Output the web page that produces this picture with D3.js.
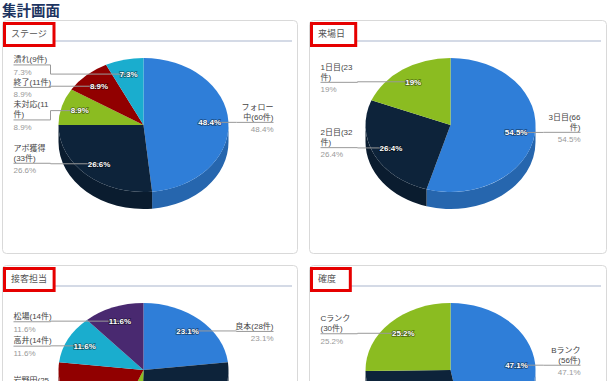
<!DOCTYPE html>
<html>
<head>
<meta charset="utf-8">
<script src="https://cdn.jsdelivr.net/npm/d3@7"></script>
<style>
body { margin: 0; background: #fff; }
svg { display: block; font-family: "Liberation Sans", "Noto Sans CJK JP", sans-serif; }
</style>
</head>
<body>
<script>

// Highcharts 3 default colours
var palette = ['#2f7ed8', '#0d233a', '#8bbc21', '#910000', '#1aadce', '#492970'];

var stageNames = ['フォロー中', 'アポ獲得', '未対応', '終了', '潰れ'];
var stageCounts = [60, 33, 11, 11, 9];

var dayNames = ['3日目', '2日目', '1日目'];
var dayCounts = [66, 32, 23];

var staffNames = ['良本', '鈴木', '田中', '岩野田', '高井', '松場'];
var staffCounts = [28, 33, 7, 25, 14, 14];

var rankNames = ['Bランク', 'Aランク', 'Cランク'];
var rankCounts = [56, 33, 30];

var W = 611, H = 381;
var rx = 85, ry = 67, depth = 17;
var labelW = 39;

var svg = d3.select('body').append('svg')
	.attr('width', W)
	.attr('height', H);

svg.append('text')
	.attr('x', 2)
	.attr('y', 16)
	.attr('font-size', 14.5)
	.attr('font-weight', 'bold')
	.attr('fill', '#1d3461')
	.attr('font-family', '"Noto Sans CJK JP", sans-serif')
	.text('集計画面');

var panels = [
	{title: '接客担当', names: staffNames, counts: staffCounts, x: 2, y: 265, w: 296, h: 240},
	{title: '確度', names: rankNames, counts: rankCounts, x: 309, y: 265, w: 298, h: 240},
	{title: 'ステージ', names: stageNames, counts: stageCounts, x: 2, y: 20, w: 296, h: 233},
	{title: '来場日', names: dayNames, counts: dayCounts, x: 309, y: 20, w: 298, h: 233}
];

// measuring helper
var meas = svg.append('text').attr('font-size', 8).attr('visibility', 'hidden');
function textW(s){
	meas.text(s);
	return meas.node().getComputedTextLength();
}

function tokens(s){
	var out = [], cur = '';
	for (var i = 0; i < s.length; i++) {
		var c = s[i], prev = s[i - 1];
		var brk = i > 0 && c !== ')' && prev !== '(' &&
			!(/[0-9A-Za-z]/.test(c) && /[0-9A-Za-z]/.test(prev));
		if (brk) { out.push(cur); cur = ''; }
		cur += c;
	}
	out.push(cur);
	return out;
}

function wrap(s){
	var lines = [], cur = '';
	tokens(s).forEach(function(t){
		if (cur && textW(cur + t) > labelW) { lines.push(cur); cur = t; }
		else cur += t;
	});
	lines.push(cur);
	return lines;
}

function pt(cx, cy, t, k, dy){
	return [cx + rx * k * Math.sin(t), cy - ry * k * Math.cos(t) + (dy || 0)];
}

function placeGroup(g, gap){
	var off = 0, sum = 0;
	g.items.forEach(function(it){
		it.rel = off;
		sum += it.want - off - it.lineOff;
		off += it.h + gap;
	});
	g.h = off - gap;
	g.top = sum / g.items.length;
	g.items.forEach(function(it){ it.top = g.top + it.rel; it.lineY = it.top + it.lineOff; });
}

function distribute(items){
	var gap = 1;
	items.sort(function(a, b){ return a.want - b.want; });
	var groups = [];
	items.forEach(function(it){
		var g = {items: [it]};
		placeGroup(g, gap);
		groups.push(g);
		while (groups.length > 1) {
			var b = groups[groups.length - 1], a = groups[groups.length - 2];
			if (a.top + a.h + gap > b.top) {
				a.items = a.items.concat(b.items);
				groups.pop();
				placeGroup(a, gap);
			} else break;
		}
	});
}

panels.forEach(function(p){

	var g = svg.append('g');

	g.append('rect')
		.attr('x', p.x + 0.5)
		.attr('y', p.y + 0.5)
		.attr('width', p.w - 1)
		.attr('height', p.h)
		.attr('rx', 4)
		.attr('fill', '#fff')
		.attr('stroke', '#d9d9d9');

	var title = g.append('text')
		.attr('x', p.x + 9)
		.attr('y', p.y + 16.5)
		.attr('font-size', 9)
		.attr('fill', '#555')
		.attr('font-family', '"Noto Sans CJK JP", sans-serif')
		.text(p.title);
	var tw = title.node().getComputedTextLength();
	var boxW = tw * 0.6 + 28;

	g.append('line')
		.attr('x1', p.x + 2 + boxW)
		.attr('x2', p.x + p.w - 6)
		.attr('y1', p.y + 21)
		.attr('y2', p.y + 21)
		.attr('stroke', '#c6cede')
		.attr('stroke-width', 1.5);

	g.append('rect')
		.attr('x', p.x + 2.5)
		.attr('y', p.y + 3.5)
		.attr('width', boxW)
		.attr('height', 22)
		.attr('fill', 'none')
		.attr('stroke', '#e60000')
		.attr('stroke-width', 3);

	var cx = p.x + 141.5, cy = p.y + 105;
	var total = d3.sum(p.counts);

	var arcs = d3.pie().sort(null)(p.counts);

	// side walls (front half only)
	arcs.forEach(function(a, i){
		var s = Math.max(a.startAngle, Math.PI / 2),
			e = Math.min(a.endAngle, Math.PI * 1.5);
		if (s >= e) return;
		var p1 = pt(cx, cy, s, 1), p2 = pt(cx, cy, e, 1);
		var large = (e - s) > Math.PI ? 1 : 0;
		var d = 'M' + p1 + 'A' + rx + ',' + ry + ' 0 ' + large + ' 1 ' + p2 +
			'L' + [p2[0], p2[1] + depth] +
			'A' + rx + ',' + ry + ' 0 ' + large + ' 0 ' + [p1[0], p1[1] + depth] + 'Z';
		g.append('path')
			.attr('d', d)
			.attr('fill', d3.color(palette[i]).darker(0.6));
	});

	// top faces
	var arc = d3.arc().innerRadius(0).outerRadius(rx);
	g.append('g')
		.attr('transform', 'translate(' + cx + ',' + cy + ') scale(1,' + (ry / rx) + ')')
		.selectAll('path')
		.data(arcs)
		.enter()
		.append('path')
		.attr('d', arc)
		.attr('fill', function(d, i){ return palette[i]; });

	// labels
	var items = arcs.map(function(a, i){
		var mid = (a.startAngle + a.endAngle) / 2;
		var pct = Math.round(a.value / total * 1000) / 10;
		var lines = wrap(p.names[i] + '(' + a.value + '件)');
		var inner = pt(cx, cy, mid, 0.78);
		return {
			mid: mid,
			pct: pct + '%',
			lines: lines,
			inner: inner,
			right: mid < Math.PI,
			want: cy - ry * 0.77 * Math.cos(mid),
			lineOff: lines.length * 10,
			h: lines.length * 10 + 11.5
		};
	});

	distribute(items.filter(function(d){ return d.right; }));
	distribute(items.filter(function(d){ return !d.right; }));

	items.forEach(function(it){
		var lx = it.right ? cx + 130 : cx - 130;
		var crook = it.right ? cx + 93 : cx - 93;
		g.append('path')
			.attr('d', 'M' + lx + ',' + it.lineY + 'H' + crook + 'V' + it.inner[1] + 'H' + it.inner[0])
			.attr('fill', 'none')
			.attr('stroke', '#999')
			.attr('stroke-width', 1);
		var anchor = it.right ? 'end' : 'start';
		it.lines.forEach(function(l, j){
			g.append('text')
				.attr('x', lx)
				.attr('y', it.lineY - 5.5 - 10 * (it.lines.length - 1 - j))
				.attr('dy', '0.35em')
				.attr('font-size', 8)
				.attr('text-anchor', anchor)
				.attr('fill', '#444')
				.text(l);
		});
		g.append('text')
			.attr('x', lx)
			.attr('y', it.lineY + 7)
			.attr('dy', '0.35em')
			.attr('font-size', 8)
			.attr('text-anchor', anchor)
			.attr('fill', '#999')
			.text(it.pct);
	});

	items.forEach(function(it){
		g.append('text')
			.attr('x', it.inner[0])
			.attr('y', it.inner[1])
			.attr('dy', '0.35em')
			.attr('font-size', 8)
			.attr('font-weight', 'bold')
			.attr('text-anchor', 'middle')
			.attr('fill', '#fff')
			.attr('stroke', 'rgba(0,0,0,0.45)')
			.attr('stroke-width', 1.6)
			.attr('paint-order', 'stroke')
			.text(it.pct);
	});
});

meas.remove();

</script>
</body>
</html>
